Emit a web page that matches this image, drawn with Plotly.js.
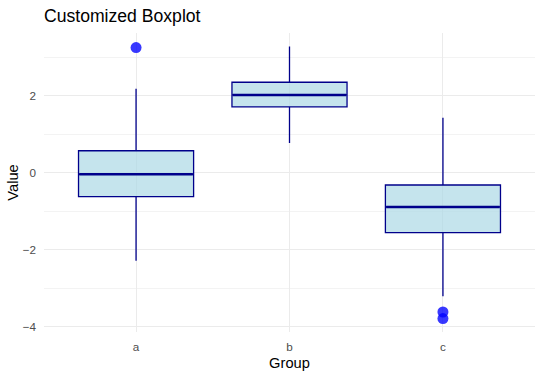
<!DOCTYPE html>
<html>
<head>
<meta charset="utf-8">
<script src="https://cdn.plot.ly/plotly-3.0.1.min.js"></script>
<style>html,body{margin:0;padding:0;background:#fff;}#chart{width:542px;height:377px;}</style>
</head>
<body>
<div id="chart"></div>
<script>
const groups = ['a', 'b', 'c'];
const q1 = [-0.62, 1.71, -1.56];
const median = [-0.04, 2.02, -0.89];
const q3 = [0.57, 2.35, -0.32];
const lowerWhisker = [-2.29, 0.77, -3.21];
const upperWhisker = [2.18, 3.28, 1.43];
const outlierGroup = ['a', 'c', 'c'];
const outlierValue = [3.25, -3.62, -3.79];

const pos = groups.map((g, i) => i + 1);
const boxWidth = 0.75;
const FONT = 'Liberation Sans, Arial, sans-serif';

const traces = [{
  type: 'box',
  x: pos,
  q1: q1,
  median: median,
  q3: q3,
  lowerfence: lowerWhisker,
  upperfence: upperWhisker,
  width: boxWidth,
  whiskerwidth: 0,
  boxpoints: false,
  fillcolor: 'rgba(173,216,230,0.7)',
  line: {color: '#00008B', width: 1.3},
  hoverinfo: 'skip'
}];

groups.forEach((g, i) => {
  traces.push({
    type: 'scatter', mode: 'lines',
    x: [pos[i] - boxWidth / 2 + 0.005, pos[i] + boxWidth / 2 - 0.005],
    y: [median[i], median[i]],
    line: {color: '#00008B', width: 2.6},
    hoverinfo: 'skip'
  });
});

traces.push({
  type: 'scatter', mode: 'markers',
  x: outlierGroup.map(g => groups.indexOf(g) + 1),
  y: outlierValue,
  marker: {color: 'rgba(0,0,255,0.78)', size: 11, line: {width: 0}},
  hoverinfo: 'skip'
});

const layout = {
  width: 542, height: 377,
  margin: {l: 44, r: 7, t: 33, b: 45, pad: 0},
  paper_bgcolor: '#fff', plot_bgcolor: '#fff',
  showlegend: false,
  hovermode: false,
  font: {family: FONT, color: '#000'},
  title: {
    text: 'Customized Boxplot',
    x: 0, xref: 'paper', xanchor: 'left',
    y: 1 - 15.5 / 377, yref: 'container', yanchor: 'middle',
    font: {size: 17.6, color: '#000', family: FONT}
  },
  xaxis: {
    range: [0.4, 3.6],
    tickvals: pos, ticktext: groups,
    showgrid: true, gridcolor: '#EBEBEB', gridwidth: 1,
    zeroline: false, showline: false, ticks: '',
    tickfont: {size: 11.7, color: '#4D4D4D', family: FONT},
    ticklabelstandoff: 6,
    title: {text: 'Group', font: {size: 14.7, color: '#000', family: FONT}, standoff: 6}
  },
  yaxis: {
    range: [-4.14, 3.63],
    tickvals: [-4, -2, 0, 2],
    showgrid: true, gridcolor: '#EBEBEB', gridwidth: 1,
    minor: {tickvals: [-3, -1, 1, 3], showgrid: true, gridcolor: '#EBEBEB', gridwidth: 0.6, ticks: ''},
    zeroline: false, showline: false, ticks: '',
    tickfont: {size: 11.7, color: '#4D4D4D', family: FONT},
    ticklabelstandoff: 7,
    title: {text: 'Value', font: {size: 14.7, color: '#000', family: FONT}, standoff: 0}
  }
};

Plotly.newPlot('chart', traces, layout, {displayModeBar: false, staticPlot: true});
</script>
</body>
</html>
